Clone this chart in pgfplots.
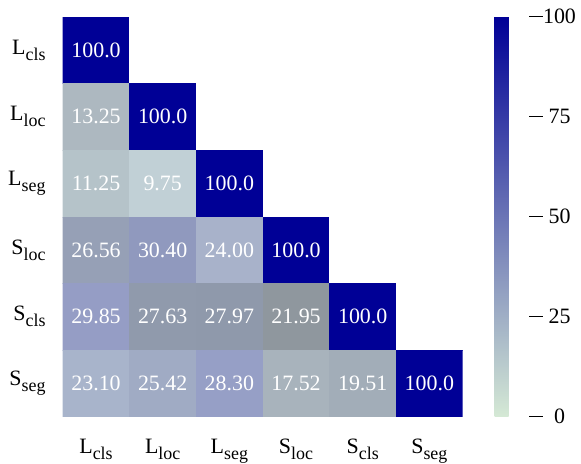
\documentclass[border=0pt]{standalone}
\usepackage{fontspec}
\setmainfont{Liberation Serif}
\usepackage{pgfplots}
\pgfplotsset{compat=1.18}
\usetikzlibrary{calc}

% label with a lowered roman subscript, as in L_cls
\newcommand{\lab}[2]{#1\raisebox{-6bp}{\fontsize{18}{18}\selectfont #2}}
\newcommand{\cellfont}{\fontsize{22}{26}\selectfont}

\begin{document}
\begin{tikzpicture}
\begin{axis}[
    name=main,
    width=400bp, height=400bp, scale only axis,
    xmin=-0.5, xmax=5.5, ymin=-0.5, ymax=5.5,
    y dir=reverse,
    enlargelimits=false,
    axis line style={draw=none},
    major tick length=0pt,
    xtick={0,...,5}, ytick={0,...,5},
    xticklabels={\lab{L}{cls},\lab{L}{loc},\lab{L}{seg},\lab{S}{loc},\lab{S}{cls},\lab{S}{seg}},
    yticklabels={\lab{L}{cls},\lab{L}{loc},\lab{L}{seg},\lab{S}{loc},\lab{S}{cls},\lab{S}{seg}},
    tick label style={font=\cellfont, inner sep=0pt},
    xticklabel style={yshift=-22bp},
    yticklabel style={xshift=-17bp},
    colormap={gb}{rgb255(0cm)=(213,233,213); rgb255(1cm)=(0,0,150)},
    point meta min=0, point meta max=100,
    colorbar right,
    colorbar shift/.style={xshift=31.7bp},
    colorbar style={
        width=34bp, scale only axis,
        ytick={0,25,50,75,100},
        ytick pos=right,
        yticklabel pos=right,
        axis line style={draw=none},
        tick align=outside,
        major tick length=14bp,
        ytick style={black, line width=1.2bp},
        yticklabel style={font=\cellfont, anchor=center, inner sep=0pt, xshift=17bp},
        /pgf/number format/assume math mode=true,
    },
]
% cell colours
\addplot[matrix plot*, mesh/cols=6, mesh/color input=explicit,
         point meta=explicit symbolic] table[meta=c] {
x y c
0 0 rgb255=0,0,150
1 0 rgb255=255,255,255
2 0 rgb255=255,255,255
3 0 rgb255=255,255,255
4 0 rgb255=255,255,255
5 0 rgb255=255,255,255
0 1 rgb255=173,184,192
1 1 rgb255=0,0,150
2 1 rgb255=255,255,255
3 1 rgb255=255,255,255
4 1 rgb255=255,255,255
5 1 rgb255=255,255,255
0 2 rgb255=181,195,201
1 2 rgb255=193,208,214
2 2 rgb255=0,0,150
3 2 rgb255=255,255,255
4 2 rgb255=255,255,255
5 2 rgb255=255,255,255
0 3 rgb255=150,160,182
1 3 rgb255=144,153,190
2 3 rgb255=168,178,202
3 3 rgb255=0,0,150
4 3 rgb255=255,255,255
5 3 rgb255=255,255,255
0 4 rgb255=149,157,197
1 4 rgb255=144,154,172
2 4 rgb255=143,153,171
3 4 rgb255=143,151,158
4 4 rgb255=0,0,150
5 4 rgb255=255,255,255
0 5 rgb255=168,180,203
1 5 rgb255=160,171,196
2 5 rgb255=150,159,198
3 5 rgb255=168,179,188
4 5 rgb255=162,173,184
5 5 rgb255=0,0,150
};
% cell values
\addplot[only marks, mark=none, point meta=explicit symbolic,
         nodes near coords,
         nodes near coords style={anchor=center, text=white, font=\cellfont, inner sep=0pt}]
    table[meta=t] {
x y t
0 0 100.0
0 1 13.25
1 1 100.0
0 2 11.25
1 2 9.75
2 2 100.0
0 3 26.56
1 3 30.40
2 3 24.00
3 3 100.0
0 4 29.85
1 4 27.63
2 4 27.97
3 4 21.95
4 4 100.0
0 5 23.10
1 5 25.42
2 5 28.30
3 5 17.52
4 5 19.51
5 5 100.0
};
\end{axis}
\pgfresetboundingbox
\path[use as bounding box] ($(main.north west)+(-62.7bp,16.7bp)$) rectangle ($(main.north west)+(518.3bp,-447.3bp)$);
\end{tikzpicture}
\end{document}
